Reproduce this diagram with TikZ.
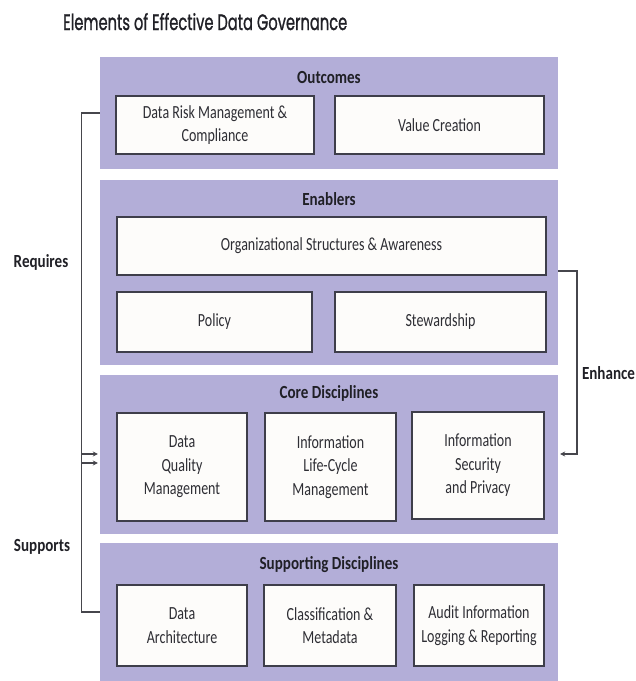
\documentclass[tikz,border=0pt]{standalone}
\usepackage{fontspec}
\setmainfont{Carlito}[FakeStretch=0.757]
\newfontfamily\labelfont{Carlito}[FakeStretch=0.815]
\newfontfamily\titlefont{Poppins}[FakeBold=1.3]
\usetikzlibrary{arrows.meta,shadows}

\definecolor{panelfill}{RGB}{179,174,216}
\definecolor{boxline}{RGB}{62,62,74}
\definecolor{boxfill}{RGB}{253,252,250}
\definecolor{inktext}{RGB}{46,46,52}
\definecolor{inkbold}{RGB}{32,32,38}
\definecolor{wire}{RGB}{70,70,76}

\tikzset{
  panel/.style={fill=panelfill, draw=none, inner sep=0pt},
  heading/.style={font=\labelfont\bfseries\fontsize{18.5}{20}\selectfont, text=inkbold, inner sep=0pt},
  sidelabel/.style={font=\labelfont\bfseries\fontsize{18.5}{20}\selectfont, text=inkbold, inner sep=0pt},
  box/.style={draw=boxline, fill=boxfill, line width=1.6pt, inner sep=0pt,
    align=center, text=inktext, font=\fontsize{18.5}{23.5}\selectfont,
    drop shadow={shadow xshift=0.4pt, shadow yshift=-1.3pt, fill=boxline, opacity=0.9}},
  conn/.style={draw=wire, line width=1.2pt},
  arr/.style={conn, -{Stealth[length=5pt,width=5pt]}, shorten >=2pt}
}

\begin{document}
\begin{tikzpicture}[x=1pt, y=-1pt]
\useasboundingbox (0,0) rectangle (636,681);

% title
\node[anchor=base west, inner sep=0pt, text=inkbold] (title) at (63,30)
  {\resizebox{284pt}{17pt}{\titlefont Elements of Effective Data Governance}};

% four layered panels
\node[panel, minimum width=458pt, minimum height=112pt] (outcomes) at (329,113) {};
\node[panel, minimum width=458pt, minimum height=185pt] (enablers) at (329,272.5) {};
\node[panel, minimum width=458pt, minimum height=159pt] (core) at (329,454.5) {};
\node[panel, minimum width=458pt, minimum height=138pt] (supporting) at (329,612) {};

% panel headings
\node[heading] (outlbl) at (329,77) {Outcomes};
\node[heading] (enlbl) at (329,199) {Enablers};
\node[heading] (corelbl) at (329,393) {Core Disciplines};
\node[heading] (suplbl) at (329,565) {Supporting Disciplines};

% outcomes
\node[box, minimum width=198pt, minimum height=58pt] (drm) at (215,125)
  {Data Risk Management \&\\Compliance};
\node[box, minimum width=209pt, minimum height=58pt] (value) at (439.5,125)
  {Value Creation};

% enablers
\node[box, minimum width=429pt, minimum height=58pt] (org) at (331.5,246)
  {Organizational Structures \& Awareness};
\node[box, minimum width=195pt, minimum height=60pt] (policy) at (214.5,322)
  {Policy};
\node[box, minimum width=211pt, minimum height=60pt] (steward) at (440.5,322)
  {Stewardship};

% core disciplines
\node[box, minimum width=130pt, minimum height=108pt] (dqm) at (182,467)
  {Data\\Quality\\Management};
\node[box, minimum width=131pt, minimum height=108pt] (ilm) at (330.5,467)
  {Information\\Life-Cycle\\Management};
\node[box, minimum width=132pt, minimum height=107pt] (isp) at (478,465.5)
  {Information\\Security\\and Privacy};

% supporting disciplines
\node[box, minimum width=130pt, minimum height=81pt] (arch) at (182,625.5)
  {Data\\Architecture};
\node[box, minimum width=132pt, minimum height=81pt] (meta) at (330,625.5)
  {Classification \&\\Metadata};
\node[box, minimum width=130pt, minimum height=81pt] (audit) at (479,625.5)
  {Audit Information\\Logging \& Reporting};

% side labels
\node[sidelabel] (requires) at (41,262) {Requires};
\node[sidelabel] (supports) at (42,547) {Supports};
\node[sidelabel] (enhance) at (608.5,373) {Enhance};

% left bracket: outcomes and supporting disciplines feed the core
\draw[conn] (outcomes.west) -- ++(-18,0) |- (supporting.west);
\coordinate (rqa) at (82,454);
\coordinate (rqb) at (82,463);
\draw[arr] (rqa) -- (rqa -| core.west);
\draw[arr] (rqb) -- (rqb -| core.west);

% right bracket: enablers enhance the core
\coordinate (en0) at (577,271);
\coordinate (en1) at (577,454);
\draw[arr] (en0 -| enablers.east) -- (en0) -- (en1) -- (en1 -| core.east);

\end{tikzpicture}
\end{document}
